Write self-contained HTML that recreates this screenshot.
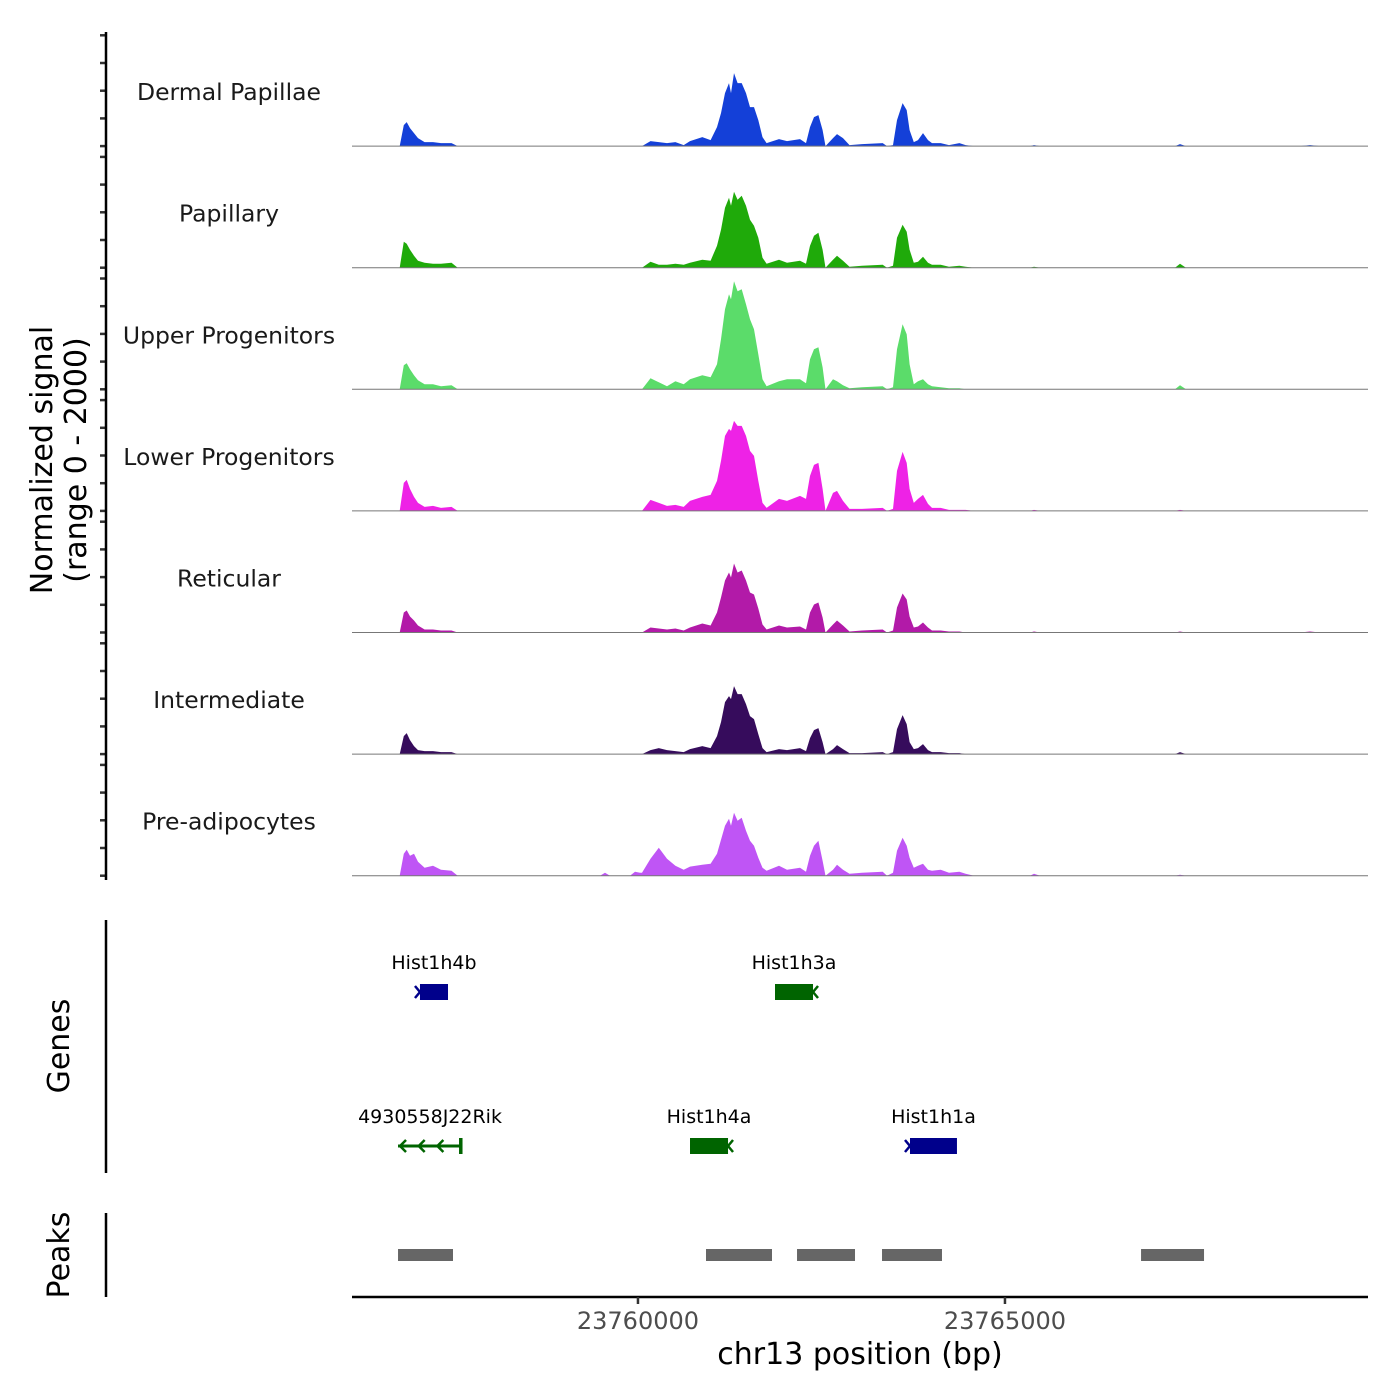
<!DOCTYPE html>
<html><head><meta charset="utf-8">
<style>
html,body{margin:0;padding:0;background:#fff;}
svg{display:block;font-family:"DejaVu Sans","Liberation Sans",sans-serif;}
</style></head>
<body>
<svg id="chart" width="1400" height="1400" viewBox="0 0 1400 1400" xmlns="http://www.w3.org/2000/svg">
<rect width="1400" height="1400" fill="#fff"/>
<g id="tracks"></g>
<g id="genes"></g>
<g id="peaks"></g>
<g id="axes"></g>
<text transform="translate(52,460) rotate(-90)" text-anchor="middle" font-size="30" fill="#000">Normalized signal</text>
<text transform="translate(86,460) rotate(-90)" text-anchor="middle" font-size="30" fill="#000">(range 0 - 2000)</text>
<text transform="translate(69,1046) rotate(-90)" text-anchor="middle" font-size="30" fill="#000">Genes</text>
<text transform="translate(69,1255) rotate(-90)" text-anchor="middle" font-size="30" fill="#000">Peaks</text>
<text x="860" y="1364" text-anchor="middle" font-size="30" fill="#000">chr13 position (bp)</text>
</svg>
<script>
const regionStart = 23756104, regionEnd = 23769946;
const xTickValues = [23760000, 23765000];
const xTickLabels = ["23760000", "23765000"];
const trackNames = ["Dermal Papillae","Papillary","Upper Progenitors","Lower Progenitors","Reticular","Intermediate","Pre-adipocytes"];
const trackColors = ["#1440D8","#1FAA0A","#5BDC6A","#EE22E6","#B21AA8","#360C5C","#BF55F5"];
const positions = [23756754,23756810,23756849,23756894,23756949,23757003,23757093,23757208,23757317,23757460,23757544,
 23759483,23759551,23759619,23759891,23759960,23760028,
 23760055,23760171,23760284,23760396,23760510,23760623,23760709,23760876,23760990,
 23761077,23761131,23761186,23761240,23761267,23761308,23761357,23761413,23761472,23761526,23761581,23761639,23761697,23761752,
 23761921,23762030,23762208,23762289,23762344,23762398,23762458,23762515,23762555,23762657,23762712,23762793,23762882,
 23763052,23763334,23763393,23763475,23763529,23763605,23763661,23763701,23763758,23763815,23763883,23763951,23764006,23764124,23764238,23764379,23764464,23764578,
 23765341,23765396,23765477,23767317,23767385,23767466,23769020,23769156,23769292];
// signal values (range 0 - 2000)
const sigDermalPapillae = [0,345,395,296,214,132,66,66,49,49,0, 0,0,0,0,0,0, 0,82,66,49,66,16,82,148,99, 313,543,872,1036,872,1201,1036,1036,872,642,642,428,148,49, 115,82,115,49,313,477,510,263,0,132,197,132,16, 33,49,0,16,428,707,592,263,66,99,214,99,49,49,16,49,16,0, 0,16,0,0,33,0,0,16,0];
const sigPapillary = [0,428,395,296,197,115,82,66,66,82,0, 0,0,0,0,0,0, 0,99,49,49,66,49,82,132,115, 362,625,987,1152,1020,1250,1119,1184,1020,790,691,494,165,66, 132,82,115,66,362,526,576,296,0,132,197,115,16, 33,49,0,33,494,707,592,296,82,99,181,82,49,49,16,33,16,0, 0,16,0,0,66,0,0,0,0];
const sigUpperProgenitors = [0,395,428,329,230,148,82,82,49,66,0, 0,0,0,0,0,0, 0,181,115,49,132,82,165,230,197, 411,823,1316,1563,1481,1777,1612,1645,1398,1152,987,576,165,49, 132,165,165,99,494,658,691,362,0,165,132,66,16, 33,49,0,33,658,1069,905,411,82,132,165,82,49,33,16,16,0,0, 0,0,0,0,66,0,0,0,0];
const sigLowerProgenitors = [0,461,510,362,230,132,66,82,49,66,0, 0,0,0,0,0,0, 0,181,132,82,99,66,165,230,263, 494,823,1234,1349,1316,1481,1398,1398,1234,987,905,494,132,49, 197,165,247,197,576,757,790,362,0,296,329,165,33, 33,49,0,33,658,971,790,362,132,197,263,115,49,49,16,16,16,0, 0,16,0,0,16,0,0,0,0];
const sigReticular = [0,329,362,263,197,115,49,49,33,33,0, 0,0,0,0,0,0, 0,82,66,49,66,33,82,148,115, 329,576,855,987,905,1135,987,1020,855,658,625,395,132,49, 115,82,99,49,329,461,494,247,0,132,197,115,16, 33,49,0,33,411,642,543,263,82,99,165,82,33,33,16,16,0,0, 0,16,0,0,16,0,0,16,0];
const sigIntermediate = [0,296,345,230,132,66,49,49,33,33,0, 0,0,0,0,0,0, 0,66,99,66,49,33,82,132,99, 296,526,855,954,905,1119,987,987,823,625,576,329,99,33, 82,66,99,49,263,395,428,197,0,82,148,82,16, 16,33,0,33,411,642,494,197,82,99,165,66,33,33,16,16,0,0, 0,0,0,0,33,0,0,0,0];
const sigPreAdipocytes = [0,362,428,329,362,230,132,165,99,82,0, 0,49,0,0,66,49, 49,280,460,280,165,99,150,181,197, 362,592,823,938,823,1036,905,954,740,576,494,296,132,82, 165,99,132,66,329,494,576,247,0,99,181,99,33, 49,66,0,49,411,625,494,296,132,165,197,99,82,99,49,66,33,0, 0,33,0,0,16,0,0,0,0];
const trackSignals = [sigDermalPapillae,sigPapillary,sigUpperProgenitors,sigLowerProgenitors,sigReticular,sigIntermediate,sigPreAdipocytes];
const geneNames = ["Hist1h4b","Hist1h3a","4930558J22Rik","Hist1h4a","Hist1h1a"];
const geneStarts = [23757030,23761867,23756731,23760709,23763706];
const geneEnds = [23757412,23762385,23757603,23761227,23764346];
const geneStrands = ["+","-","-","-","+"];
const geneRows = [0,0,1,1,1];
const geneKinds = ["box","box","line","box","box"];
const peakStarts = [23756731,23760927,23762167,23763325,23766854];
const peakEnds = [23757480,23761826,23762957,23764142,23767712];

const NS="http://www.w3.org/2000/svg";
const X0=352, X1=1368, trackTop=24.5, trackH=121.6, yMax=2000;
function xs(bp){return X0+(bp-regionStart)/(regionEnd-regionStart)*(X1-X0);}
function ys(v,i){return trackTop+trackH*(i+1)-v/yMax*trackH;}
function mk(tag,attrs,parent){const e=document.createElementNS(NS,tag);for(const k in attrs)e.setAttribute(k,attrs[k]);parent.appendChild(e);return e;}

const gT=document.getElementById('tracks');
trackSignals.forEach((sig,i)=>{
  const base=ys(0,i);
  let d=`M${xs(positions[0])},${base}`;
  positions.forEach((p,j)=>{d+=` L${xs(p).toFixed(1)},${ys(sig[j],i).toFixed(1)}`;});
  d+=` L${xs(positions[positions.length-1])},${base} Z`;
  const a=mk('path',{d:d,fill:trackColors[i]},gT);
  
  
  const l=mk('line',{x1:X0,x2:X1,y1:base,y2:base,stroke:'#777','stroke-width':1},gT);
  
  
  const t=mk('text',{x:229,y:base-46,'text-anchor':'middle','font-size':23.5,fill:'#1a1a1a'},gT);
  t.textContent=trackNames[i];
  
  
  for(let k=0;k<5;k++){
    const ty=base-k*27.7;
    const tk=mk('line',{x1:100,x2:106,y1:ty,y2:ty,stroke:'#333','stroke-width':2.5},gT);
    
    
  }
});

const gA=document.getElementById('axes');
[[32,880,'y-axis-line'],[920,1173,'genes-axis-line'],[1213,1297,'peaks-axis-line']].forEach(s=>{
  const l=mk('line',{x1:106,x2:106,y1:s[0],y2:s[1],stroke:'#000','stroke-width':2.5},gA);
  
  
});
const xl=mk('line',{x1:X0,x2:X1,y1:1297,y2:1297,stroke:'#000','stroke-width':2.5},gA);


xTickValues.forEach((v,i)=>{
  const tk=mk('line',{x1:xs(v),x2:xs(v),y1:1297,y2:1304,stroke:'#333','stroke-width':2.5},gA);
  
  
  const t=mk('text',{x:xs(v),y:1329,'text-anchor':'middle','font-size':24,fill:'#4d4d4d'},gA);
  t.textContent=xTickLabels[i];
  
  
});

const gG=document.getElementById('genes');
const rowY=[992,1146];
geneNames.forEach((n,i)=>{
  const x1=xs(geneStarts[i]), x2=xs(geneEnds[i]), y=rowY[geneRows[i]];
  const col=geneStrands[i]==='+'?'#00008B':'#006400';
  const g=mk('g',{},gG);
  
  
  if(geneKinds[i]==='box'){
    mk('rect',{x:x1,y:y-8,width:x2-x1,height:16,fill:col},g);
    if(geneStrands[i]==='+') mk('path',{d:`M${x1-5},${y-6} L${x1},${y} L${x1-5},${y+6}`,fill:'none',stroke:col,'stroke-width':2.5},g);
    else mk('path',{d:`M${x2+5},${y-6} L${x2},${y} L${x2+5},${y+6}`,fill:'none',stroke:col,'stroke-width':2.5},g);
  } else {
    mk('line',{x1:x1,x2:x2,y1:y,y2:y,stroke:col,'stroke-width':3},g);
    mk('rect',{x:x2-3,y:y-8,width:3.5,height:16,fill:col},g);
    for(let k=0;k<3;k++){const ax=x1+2+k*(x2-x1-8)/3;
      mk('path',{d:`M${ax+6},${y-6} L${ax},${y} L${ax+6},${y+6}`,fill:'none',stroke:col,'stroke-width':2.5},g);}
  }
  const t=mk('text',{x:(x1+x2)/2,y:y-23,'text-anchor':'middle','font-size':19,fill:'#000'},g);
  t.textContent=n;
  
  
});

const gP=document.getElementById('peaks');
peakStarts.forEach((s,i)=>{
  const r=mk('rect',{x:xs(s),y:1249,width:xs(peakEnds[i])-xs(s),height:12,fill:'#666'},gP);
  
  
});
</script>
</body></html>
